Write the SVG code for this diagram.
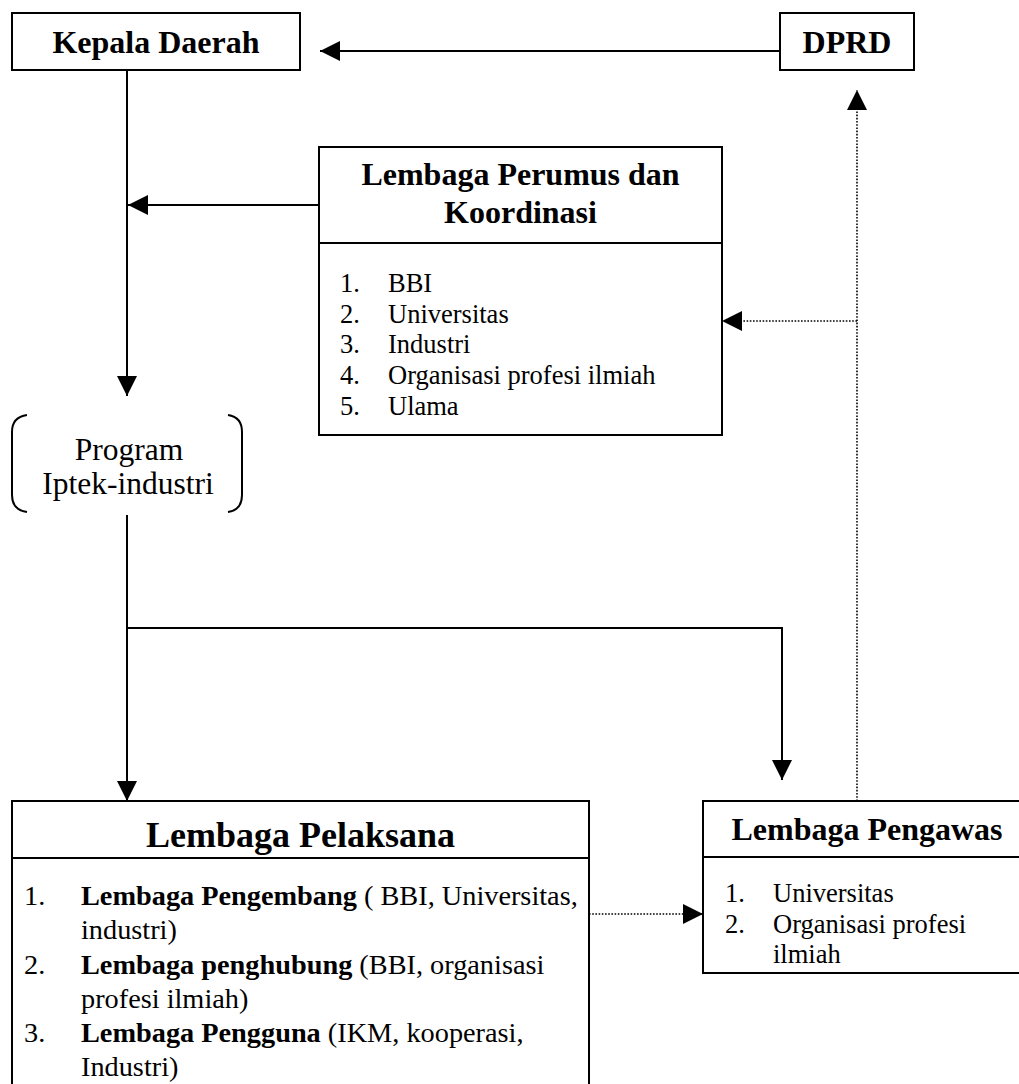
<svg xmlns="http://www.w3.org/2000/svg" width="1019" height="1084" viewBox="0 0 1019 1084">
<style>
text{font-family:"Liberation Serif","Times New Roman",serif;fill:#000}
.t{font-size:32px;font-weight:bold;text-anchor:middle}
.t2{font-size:36px;font-weight:bold;text-anchor:middle}
.p{font-size:31.5px;text-anchor:middle}
.l{font-size:26.5px}
.m{font-size:28.3px}
.b{font-weight:bold}
.box{fill:#fff;stroke:#000;stroke-width:2}
.ln{fill:none;stroke:#000;stroke-width:2}
.dot{fill:none;stroke:#000;stroke-width:1.6;stroke-dasharray:1.6 1.6}
</style>
<defs>
<marker id="ah" markerUnits="userSpaceOnUse" markerWidth="20" markerHeight="20" refX="20" refY="10" orient="auto">
<path d="M0,0 L20,10 L0,20 z" fill="#000"/>
</marker>
</defs>
<rect width="1019" height="1084" fill="#fff"/>
<g id="connectors">
<line class="ln" x1="780" y1="51" x2="320" y2="51" marker-end="url(#ah)"/>
<line class="ln" x1="127" y1="70" x2="127" y2="396" marker-end="url(#ah)"/>
<line class="ln" x1="319" y1="205" x2="128" y2="205" marker-end="url(#ah)"/>
<line class="ln" x1="127" y1="515" x2="127" y2="801" marker-end="url(#ah)"/>
<polyline class="ln" points="127,628 782,628 782,780" marker-end="url(#ah)"/>
<line class="dot" x1="857" y1="801" x2="857" y2="90" marker-end="url(#ah)"/>
<line class="dot" x1="857" y1="321" x2="722" y2="321" marker-end="url(#ah)"/>
<line class="dot" x1="589" y1="914" x2="703" y2="914" marker-end="url(#ah)"/>
</g>
<g id="kepala-daerah">
<rect class="box" x="12" y="13" width="288" height="57"/>
<text class="t" x="156" y="53">Kepala Daerah</text>
</g>
<g id="dprd">
<rect class="box" x="780" y="13" width="134" height="57"/>
<text class="t" x="847" y="53">DPRD</text>
</g>
<g id="lembaga-perumus">
<rect class="box" x="319" y="147" width="403" height="288"/>
<line class="ln" x1="319" y1="243" x2="722" y2="243"/>
<text class="t" x="520.5" y="185">Lembaga Perumus dan</text>
<text class="t" x="520.5" y="223">Koordinasi</text>
<text class="l" x="340" y="292">1.</text><text class="l" x="388" y="292">BBI</text>
<text class="l" x="340" y="323">2.</text><text class="l" x="388" y="323">Universitas</text>
<text class="l" x="340" y="353">3.</text><text class="l" x="388" y="353">Industri</text>
<text class="l" x="340" y="384">4.</text><text class="l" x="388" y="384">Organisasi profesi ilmiah</text>
<text class="l" x="340" y="415">5.</text><text class="l" x="388" y="415">Ulama</text>
</g>
<g id="program">
<path class="ln" d="M27,415 Q12,417 12,432 L12,495 Q12,510 27,512"/>
<path class="ln" d="M228,415 Q242,417 242,432 L242,495 Q242,510 228,512"/>
<text class="p" x="129" y="460">Program</text>
<text class="p" x="128" y="494">Iptek-industri</text>
</g>
<g id="lembaga-pelaksana">
<rect class="box" x="12" y="801" width="577" height="300"/>
<line class="ln" x1="12" y1="858" x2="589" y2="858"/>
<text class="t2" x="300.5" y="847">Lembaga Pelaksana</text>
<text class="m" x="24" y="905">1.</text><text class="m" x="81" y="905"><tspan class="b">Lembaga Pengembang</tspan> ( BBI, Universitas,</text>
<text class="m" x="81" y="939">industri)</text>
<text class="m" x="24" y="974">2.</text><text class="m" x="81" y="974"><tspan class="b">Lembaga penghubung</tspan> (BBI, organisasi</text>
<text class="m" x="81" y="1008">profesi ilmiah)</text>
<text class="m" x="24" y="1042">3.</text><text class="m" x="81" y="1042"><tspan class="b">Lembaga Pengguna</tspan> (IKM, kooperasi,</text>
<text class="m" x="81" y="1076">Industri)</text>
</g>
<g id="lembaga-pengawas">
<rect class="box" x="703" y="801" width="330" height="172"/>
<line class="ln" x1="703" y1="857" x2="1033" y2="857"/>
<text class="t" x="867" y="840">Lembaga Pengawas</text>
<text class="l" x="725" y="902">1.</text><text class="l" x="773" y="902">Universitas</text>
<text class="l" x="725" y="933">2.</text><text class="l" x="773" y="933">Organisasi profesi</text>
<text class="l" x="773" y="963">ilmiah</text>
</g>
</svg>
